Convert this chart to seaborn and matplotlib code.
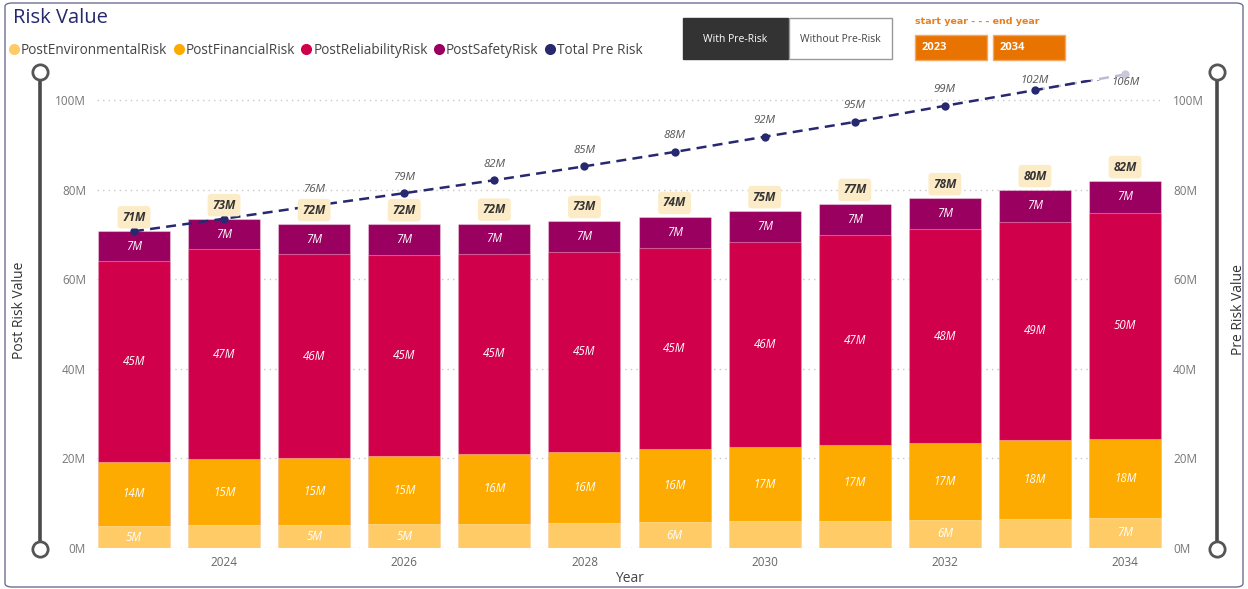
import numpy as np
import pandas as pd
import matplotlib
matplotlib.use("Agg")
import matplotlib.pyplot as plt
import seaborn as sns
from matplotlib.patches import Rectangle, FancyBboxPatch
from matplotlib.lines import Line2D

# ---- data (values in millions) ----
years = [2023, 2024, 2025, 2026, 2027, 2028, 2029, 2030, 2031, 2032, 2033, 2034]
post_environmental = [4.9, 5.1, 5.2, 5.35, 5.45, 5.65, 5.8, 5.95, 6.1, 6.3, 6.55, 6.7]
post_financial = [14.4, 14.7, 14.8, 15.1, 15.6, 15.85, 16.2, 16.6, 16.9, 17.1, 17.6, 17.7]
post_reliability = [44.8, 46.9, 45.6, 45.0, 44.65, 44.6, 45.0, 45.65, 46.8, 47.7, 48.65, 50.4]
post_safety = [6.6, 6.7, 6.7, 6.8, 6.7, 6.9, 6.9, 7.0, 7.0, 7.0, 7.1, 7.1]
total_pre_risk = [70.7, 73.5, 76.4, 79.2, 82.1, 85.2, 88.4, 91.8, 95.1, 98.7, 102.2, 105.7]

# which small environmental labels fit inside their segment
env_label_shown = [True, False, True, True, False, False, True, False, False, True, False, True]
# pre-risk labels hidden where they collide with the total badges
pre_label_shown = [False, False, True, True, True, True, True, True, True, True, True, True]

series_names = ["PostEnvironmentalRisk", "PostFinancialRisk", "PostReliabilityRisk",
                "PostSafetyRisk", "Total Pre Risk"]
colors = {
    "PostEnvironmentalRisk": "#FECB67",
    "PostFinancialRisk": "#FDAB00",
    "PostReliabilityRisk": "#D1004B",
    "PostSafetyRisk": "#99005F",
    "Total Pre Risk": "#27286F",
}
y_ticks = [0, 20, 40, 60, 80, 100]
y_max = 104.4

df = pd.DataFrame({
    "Year": [str(y) for y in years],
    "PostEnvironmentalRisk": post_environmental,
    "PostFinancialRisk": post_financial,
    "PostReliabilityRisk": post_reliability,
    "PostSafetyRisk": post_safety,
})
stack_cols = ["PostEnvironmentalRisk", "PostFinancialRisk", "PostReliabilityRisk", "PostSafetyRisk"]
cum = df[stack_cols].cumsum(axis=1)
total_post = cum["PostSafetyRisk"].values

# ---- figure ----
sns.set_style("white")
plt.rcParams["font.family"] = ["Open Sans", "DejaVu Sans"]

W, H = 1248, 589
fig = plt.figure(figsize=(W / 100, H / 100), dpi=100)


def fx(x):
    return x / W


def fy(y):
    return 1 - y / H


px_per_m = 4.48
ax_top = 548 - y_max * px_per_m
ax = fig.add_axes([fx(97), fy(548), fx(1162) - fx(97), fy(ax_top) - fy(548)])

# stacked bars: draw cumulative heights from the top layer down
for col in reversed(stack_cols):
    plot_df = pd.DataFrame({"Year": df["Year"], "h": cum[col]})
    sns.barplot(data=plot_df, x="Year", y="h", color=colors[col], saturation=1,
                width=0.8, errorbar=None, ax=ax,
                edgecolor=(1, 1, 1, 0.35), linewidth=0.8, zorder=2)

idx = np.arange(len(years))

# segment labels
lower = np.zeros(len(years))
for col in stack_cols:
    vals = df[col].values
    for i, v in enumerate(vals):
        if col == "PostEnvironmentalRisk" and not env_label_shown[i]:
            continue
        ax.text(i, lower[i] + v / 2, f"{v:.0f}M", ha="center", va="center",
                color="white", fontsize=8.3, style="italic", zorder=5)
    lower = lower + vals

# pre-risk line: faded where it leaves the plot area, solid inside
navy = colors["Total Pre Risk"]
dash = (0, (4, 2.5))
ax.plot(idx[-2:], total_pre_risk[-2:], color="#BDBDD2", lw=1.8,
        linestyle=dash, zorder=3, clip_on=False)
ax.plot(idx[-1], total_pre_risk[-1], "o", color="#C9C9DA", ms=5, zorder=3, clip_on=False)
sns.lineplot(x=idx, y=total_pre_risk, ax=ax, color=navy, lw=1.8,
             linestyle=dash, zorder=6, clip_on=True)
ax.plot(idx[:-1], total_pre_risk[:-1], "o", color=navy, ms=6, mew=0, zorder=6,
        clip_on=False)

pre_label_offset = [16] * (len(years) - 2) + [10, -8]
for i, v in enumerate(total_pre_risk):
    if pre_label_shown[i]:
        ax.annotate(f"{v:.0f}M", (i, v), xytext=(0, pre_label_offset[i]),
                    textcoords="offset pixels", ha="center", va="center",
                    fontsize=8.2, style="italic", color="#555555", zorder=7,
                    annotation_clip=False)

# total badges above the bars
for i, t in enumerate(total_post):
    ax.annotate(f"{t:.0f}M", (i, t), xytext=(0, 14), textcoords="offset pixels",
                ha="center", va="center", fontsize=8.5, style="italic", fontweight="bold",
                color="#333333", zorder=8,
                bbox=dict(boxstyle="round,pad=0.4,rounding_size=0.3",
                          fc="#FCEBC7", ec="none"))

# axes styling
ax.set_xlim(-0.41, len(years) - 1 + 0.41)
ax.set_ylim(0, y_max)
ax.set_yticks(y_ticks)
ax.set_yticklabels([f"{t}M" for t in y_ticks])
ax.set_xticks(idx[1::2])
ax.set_xticklabels([str(y) for y in years[1::2]])
ax.tick_params(axis="y", length=0, pad=8, labelsize=8.5, labelcolor="#777777")
ax.tick_params(axis="x", length=0, pad=6, labelsize=8.5, labelcolor="#666666")
ax.set_xlabel("Year", fontsize=10, color="#444444", labelpad=1)
ax.set_ylabel("")
for s in ax.spines.values():
    s.set_visible(False)
for t in y_ticks:
    ax.axhline(t, color="#C8C8C8", lw=1, linestyle=(0, (1, 3)), zorder=1)

ax2 = ax.twinx()
ax2.set_ylim(ax.get_ylim())
ax2.set_yticks(y_ticks)
ax2.set_yticklabels([f"{t}M" for t in y_ticks])
ax2.tick_params(axis="y", length=0, pad=8, labelsize=8.5, labelcolor="#777777")
for s in ax2.spines.values():
    s.set_visible(False)

fig.text(fx(20), fy(310), "Post Risk Value", rotation=90, ha="center", va="center",
         fontsize=10, color="#333333")
fig.text(fx(1238), fy(310), "Pre Risk Value", rotation=90, ha="center", va="center",
         fontsize=10, color="#333333")

# title and legend
fig.text(fx(13), fy(18), "Risk Value", fontsize=14.5, color="#25286A", va="center", ha="left")
handles = [Line2D([], [], marker="o", linestyle="", markersize=8, markeredgewidth=0,
                  color=colors[n]) for n in series_names]
fig.legend(handles, series_names, loc="center left", bbox_to_anchor=(fx(9), fy(50)),
           ncol=5, frameon=False, fontsize=9.8, handlelength=0.7, handletextpad=0.15,
           columnspacing=0.5, labelcolor="#444444", borderaxespad=0, borderpad=0)

# range sliders on both sides
for xs in (40, 1217):
    fig.add_artist(Line2D([fx(xs), fx(xs)], [fy(72), fy(549)], color="#4A4A4A", lw=2.6,
                          solid_capstyle="butt", zorder=3))
    for yy in (72, 549):
        fig.add_artist(Line2D([fx(xs)], [fy(yy)], marker="o", markersize=11,
                              markerfacecolor="white", markeredgecolor="#555555",
                              markeredgewidth=2, zorder=4))

# toggle buttons
fig.add_artist(Rectangle((fx(683), fy(59)), fx(788) - fx(683), fy(18) - fy(59),
                         transform=fig.transFigure, fc="#333333", ec="#333333", lw=1))
fig.text(fx(735.5), fy(39), "With Pre-Risk", ha="center", va="center", fontsize=7.5,
         color="white")
fig.add_artist(Rectangle((fx(789), fy(59)), fx(892) - fx(789), fy(18) - fy(59),
                         transform=fig.transFigure, fc="white", ec="#999999", lw=1))
fig.text(fx(840.5), fy(39), "Without Pre-Risk", ha="center", va="center", fontsize=7.5,
         color="#444444")

# year range boxes
fig.text(fx(915), fy(22), "start year - - - end year", ha="left", va="center", fontsize=6.8,
         color="#E8801E", fontweight="bold", family=["DejaVu Sans"])
for x0, label in ((915, str(years[0])), (993, str(years[-1]))):
    fig.add_artist(Rectangle((fx(x0), fy(60)), fx(72), 25 / H,
                             transform=fig.transFigure, fc="#E87300", ec="#F2A765", lw=1))
    fig.text(fx(x0 + 7), fy(47.5), label, ha="left", va="center", fontsize=8,
             color="white", fontweight="bold")

# outer frame
fig.add_artist(FancyBboxPatch((fx(5), fy(587)), fx(1243) - fx(5), fy(3) - fy(587),
                              boxstyle="round,pad=0,rounding_size=0.006",
                              transform=fig.transFigure, fc="none", ec="#6E6E95", lw=1))

fig.savefig("out.png", dpi=100)
